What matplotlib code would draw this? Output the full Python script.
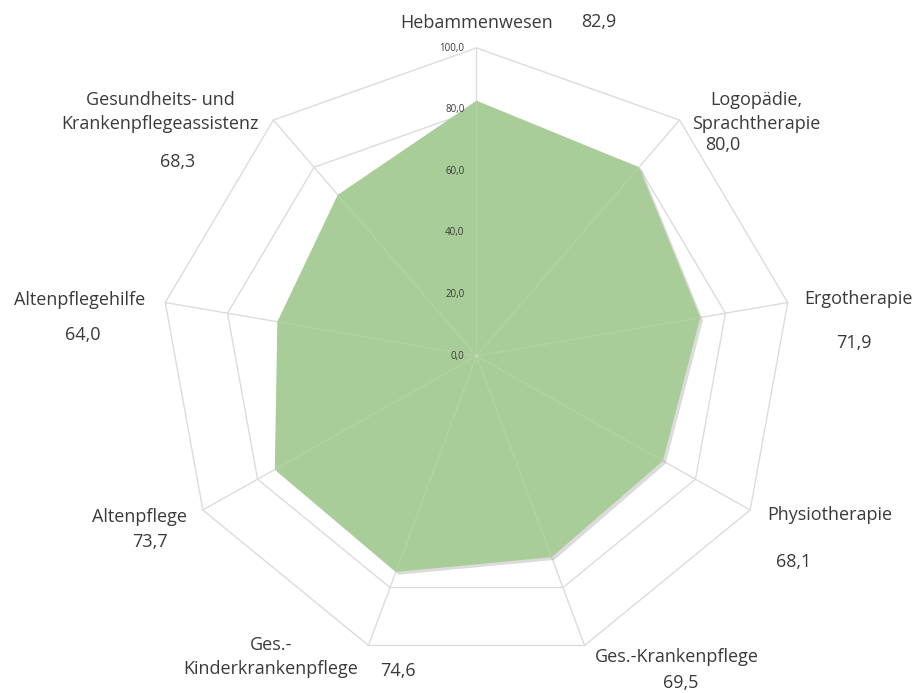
import numpy as np
import matplotlib
matplotlib.use("Agg")
import matplotlib.pyplot as plt
import matplotlib.patheffects as pe

categories = ["Hebammenwesen", "Logopädie,\nSprachtherapie", "Ergotherapie",
              "Physiotherapie", "Ges.-Krankenpflege", "Ges.-\nKinderkrankenpflege",
              "Altenpflege", "Altenpflegehilfe",
              "Gesundheits- und\nKrankenpflegeassistenz"]
values = [82.9, 80.0, 71.9, 68.1, 69.5, 74.6, 73.7, 64.0, 68.3]
ticks = [0, 20, 40, 60, 80, 100]

# label / value text centres in figure pixels (from top-left)
label_pos = [(477, 23), (756, 112), (858, 299), (830, 515), (677, 657),
             (271, 657), (139, 517), (80, 300), (160, 112)]
value_pos = [(599, 22), (723, 145), (854, 343), (794, 562), (681, 683),
             (398, 671), (150, 542), (83, 335), (178, 162)]

W, H = 919, 693
cx, cy = 476.5, 356      # centre in pixels
sx, sy = 3.16, 3.08      # pixels per unit

fig = plt.figure(figsize=(W / 100, H / 100), dpi=100)
ax = fig.add_axes([0, 0, 1, 1])
ax.set_xlim(-cx / sx, (W - cx) / sx)
ax.set_ylim(-(H - cy) / sy, cy / sy)
ax.axis("off")

n = len(categories)
ang = np.arange(n) * 2 * np.pi / n
ux, uy = np.sin(ang), np.cos(ang)
grid_col = "#dcdcdc"

# polygon rings
for t in ticks[1:]:
    ax.plot(np.append(ux, ux[0]) * t, np.append(uy, uy[0]) * t,
            color=grid_col, lw=1, zorder=1)

# filled data polygon
v = np.array(values)
poly = ax.fill(ux * v, uy * v, color="#a9cd98", lw=0, zorder=2)[0]
poly.set_path_effects([pe.SimplePatchShadow(offset=(2, -2), shadow_rgbFace="#888888", alpha=0.3),
                       pe.Normal()])

# spokes
for i in range(n):
    ax.plot([0, ux[i] * 100], [0, uy[i] * 100], color=grid_col, lw=1, zorder=1)
    ax.plot([0, ux[i] * v[i]], [0, uy[i] * v[i]], color="#ffffff", lw=0.8, alpha=0.12, zorder=3)

# tick labels along the top spoke
for t in ticks:
    ax.text(-12 / sx, t, f"{t:.1f}".replace(".", ","), ha="right", va="center",
            fontsize=7, color="#3a3a3a", family="Open Sans", zorder=4)

txt_col = "#3a3a3a"
for i in range(n):
    lx, ly = label_pos[i]
    fig.text(lx / W, 1 - ly / H, categories[i], ha="center", va="center",
             fontsize=13, color=txt_col, family="Open Sans", linespacing=1.45)
    vx, vy = value_pos[i]
    fig.text(vx / W, 1 - vy / H, f"{values[i]:.1f}".replace(".", ","), ha="center",
             va="center", fontsize=13, color=txt_col, family="Open Sans")

fig.savefig("out.png", dpi=100, facecolor="white")
